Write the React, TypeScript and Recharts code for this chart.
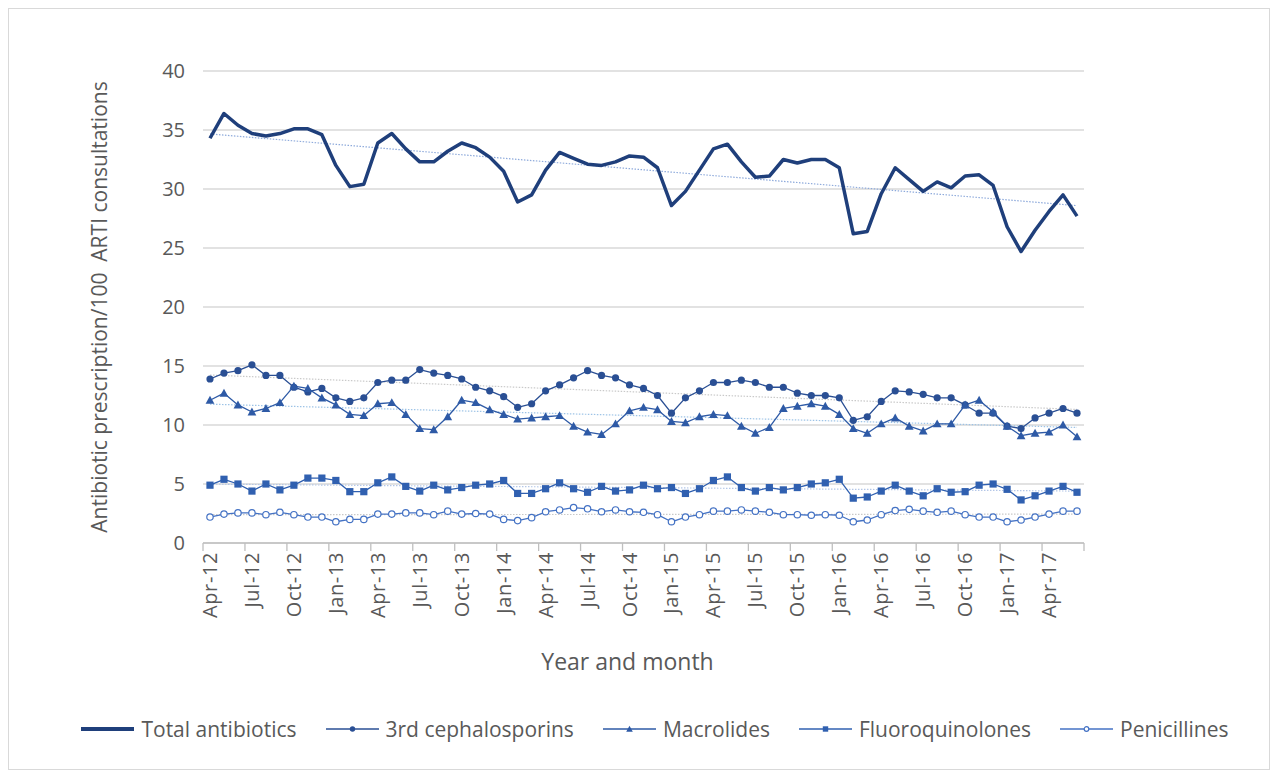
import { LineChart, Line, XAxis, YAxis, CartesianGrid, Legend } from 'recharts'

const MONTHS = [
  'Apr-12', 'May-12', 'Jun-12', 'Jul-12', 'Aug-12', 'Sep-12', 'Oct-12', 'Nov-12', 'Dec-12',
  'Jan-13', 'Feb-13', 'Mar-13', 'Apr-13', 'May-13', 'Jun-13', 'Jul-13', 'Aug-13', 'Sep-13', 'Oct-13', 'Nov-13', 'Dec-13',
  'Jan-14', 'Feb-14', 'Mar-14', 'Apr-14', 'May-14', 'Jun-14', 'Jul-14', 'Aug-14', 'Sep-14', 'Oct-14', 'Nov-14', 'Dec-14',
  'Jan-15', 'Feb-15', 'Mar-15', 'Apr-15', 'May-15', 'Jun-15', 'Jul-15', 'Aug-15', 'Sep-15', 'Oct-15', 'Nov-15', 'Dec-15',
  'Jan-16', 'Feb-16', 'Mar-16', 'Apr-16', 'May-16', 'Jun-16', 'Jul-16', 'Aug-16', 'Sep-16', 'Oct-16', 'Nov-16', 'Dec-16',
  'Jan-17', 'Feb-17', 'Mar-17', 'Apr-17', 'May-17', 'Jun-17',
]

const TOTAL = [
  34.3, 36.4, 35.4, 34.7, 34.5, 34.7, 35.1, 35.1, 34.6, 32.0,
  30.2, 30.4, 33.9, 34.7, 33.4, 32.3, 32.3, 33.2, 33.9, 33.5,
  32.7, 31.5, 28.9, 29.5, 31.6, 33.1, 32.6, 32.1, 32.0, 32.3,
  32.8, 32.7, 31.8, 28.6, 29.8, 31.6, 33.4, 33.8, 32.3, 31.0,
  31.1, 32.5, 32.2, 32.5, 32.5, 31.8, 26.2, 26.4, 29.6, 31.8,
  30.8, 29.8, 30.6, 30.1, 31.1, 31.2, 30.3, 26.8, 24.7, 26.5,
  28.1, 29.5, 27.7,
]

const CEPHALOSPORINS = [
  13.9, 14.4, 14.6, 15.1, 14.2, 14.2, 13.2, 12.8, 13.1, 12.3,
  12.0, 12.3, 13.6, 13.8, 13.8, 14.7, 14.4, 14.2, 13.9, 13.2,
  12.9, 12.4, 11.5, 11.8, 12.9, 13.4, 14.0, 14.6, 14.2, 14.0,
  13.4, 13.1, 12.5, 11.0, 12.3, 12.9, 13.6, 13.6, 13.8, 13.6,
  13.2, 13.2, 12.7, 12.5, 12.5, 12.3, 10.4, 10.7, 12.0, 12.9,
  12.8, 12.6, 12.3, 12.3, 11.7, 11.0, 11.0, 9.9, 9.7, 10.6,
  11.0, 11.4, 11.0,
]

const MACROLIDES = [
  12.1, 12.7, 11.7, 11.1, 11.4, 11.9, 13.3, 13.1, 12.3, 11.7,
  10.9, 10.8, 11.8, 11.9, 10.9, 9.7, 9.6, 10.7, 12.1, 11.9,
  11.3, 10.9, 10.5, 10.6, 10.7, 10.8, 9.9, 9.4, 9.2, 10.1,
  11.2, 11.5, 11.3, 10.3, 10.2, 10.7, 10.9, 10.8, 9.9, 9.3,
  9.8, 11.4, 11.6, 11.8, 11.6, 10.9, 9.7, 9.3, 10.1, 10.6,
  9.9, 9.5, 10.1, 10.1, 11.7, 12.1, 11.1, 9.9, 9.1, 9.3,
  9.4, 10.0, 9.0,
]

const FLUOROQUINOLONES = [
  4.9, 5.4, 5.0, 4.4, 5.0, 4.5, 4.9, 5.5, 5.5, 5.3,
  4.35, 4.35, 5.1, 5.6, 4.8, 4.4, 4.9, 4.5, 4.7, 4.9,
  5.0, 5.3, 4.2, 4.2, 4.6, 5.1, 4.6, 4.3, 4.8, 4.4,
  4.5, 4.9, 4.6, 4.7, 4.2, 4.6, 5.3, 5.6, 4.7, 4.4,
  4.7, 4.5, 4.7, 5.0, 5.1, 5.4, 3.8, 3.9, 4.4, 4.9,
  4.4, 4.0, 4.6, 4.3, 4.35, 4.9, 5.0, 4.55, 3.65, 4.0,
  4.4, 4.8, 4.3,
]

const PENICILLINES = [
  2.2, 2.45, 2.55, 2.55, 2.4, 2.6, 2.4, 2.2, 2.2, 1.8,
  2.0, 2.0, 2.45, 2.45, 2.55, 2.55, 2.4, 2.7, 2.45, 2.5,
  2.45, 2.0, 1.9, 2.15, 2.65, 2.8, 3.0, 2.9, 2.65, 2.8,
  2.65, 2.6, 2.4, 1.8, 2.2, 2.4, 2.7, 2.7, 2.8, 2.7,
  2.6, 2.4, 2.4, 2.35, 2.4, 2.35, 1.8, 1.95, 2.4, 2.75,
  2.85, 2.7, 2.6, 2.7, 2.4, 2.2, 2.2, 1.8, 1.95, 2.2,
  2.45, 2.7, 2.7,
]

const Y_TICKS = [0, 5, 10, 15, 20, 25, 30, 35, 40]

const FONT = '"Open Sans", sans-serif'
const TEXT = '#595959'

const W = 1260
const H = 760
const MARGIN = { top: 62, right: 185, bottom: 86, left: 84 }
const Y_AXIS_W = 110
const BAND = (W - MARGIN.left - MARGIN.right - Y_AXIS_W) / MONTHS.length

type Shape = 'none' | 'circle' | 'triangle' | 'square' | 'ring'

const SERIES: { key: string; name: string; values: number[]; color: string; width: number; shape: Shape; trend: string }[] = [
  { key: 'total', name: 'Total antibiotics', values: TOTAL, color: '#1f3f7b', width: 3.5, shape: 'none', trend: '#8eaadb' },
  { key: 'ceph', name: '3rd cephalosporins', values: CEPHALOSPORINS, color: '#2a4f94', width: 1.3, shape: 'circle', trend: '#c9c9c9' },
  { key: 'macro', name: 'Macrolides', values: MACROLIDES, color: '#2e5aa6', width: 1.3, shape: 'triangle', trend: '#9dc3e6' },
  { key: 'fluoro', name: 'Fluoroquinolones', values: FLUOROQUINOLONES, color: '#3060b0', width: 1.3, shape: 'square', trend: '#b4c7e7' },
  { key: 'pen', name: 'Penicillines', values: PENICILLINES, color: '#4472c4', width: 1.3, shape: 'ring', trend: '#c9c9c9' },
]

// least-squares linear trend, like Excel's trendline
function trend(values: number[]) {
  const n = values.length
  const mx = (n - 1) / 2
  const my = values.reduce((a, b) => a + b, 0) / n
  let num = 0
  let den = 0
  values.forEach((v, i) => {
    num += (i - mx) * (v - my)
    den += (i - mx) * (i - mx)
  })
  const slope = num / den
  return values.map((_, i) => my + slope * (i - mx))
}

const TRENDS = SERIES.map((s) => trend(s.values))

const data = MONTHS.map((month, i) => {
  const row: Record<string, string | number> = { month }
  SERIES.forEach((s, k) => {
    row[s.key] = s.values[i]
    row[s.key + 'Trend'] = TRENDS[k][i]
  })
  return row
})

function Marker({ shape, cx, cy, color, scale = 1 }: { shape: Shape; cx: number; cy: number; color: string; scale?: number }) {
  if (cx == null || cy == null) return null
  const r = 3.6 * scale
  switch (shape) {
    case 'circle':
      return <circle cx={cx} cy={cy} r={r} fill={color} />
    case 'triangle': {
      const h = 4.4 * scale
      return <polygon points={`${cx},${cy - h} ${cx + h},${cy + h * 0.8} ${cx - h},${cy + h * 0.8}`} fill={color} />
    }
    case 'square':
      return <rect x={cx - r} y={cy - r} width={r * 2} height={r * 2} fill={color} />
    case 'ring':
      return <circle cx={cx} cy={cy} r={r - 0.4} fill="#fff" stroke={color} strokeWidth={1.2} />
    default:
      return null
  }
}

function XTick(props: any) {
  const { x, y, payload } = props
  const left = x - BAND / 2
  const isLast = payload.value === MONTHS[MONTHS.length - 3]
  return (
    <g>
      <line x1={left} x2={left} y1={y - 9} y2={y - 1} stroke="#bfbfbf" strokeWidth={1.3} />
      {isLast && <line x1={x + BAND * 2.5} x2={x + BAND * 2.5} y1={y - 9} y2={y - 1} stroke="#bfbfbf" strokeWidth={1.3} />}
      <text
        x={x}
        y={y}
        transform={`rotate(-90 ${x} ${y})`}
        textAnchor="end"
        dy="0.35em"
        fill={TEXT}
        fontSize={20}
        letterSpacing={0.6}
        fontFamily={FONT}
      >
        {payload.value}
      </text>
    </g>
  )
}

function YLabel(props: any) {
  const vb = props.viewBox
  const x = vb.x + 7
  const y = vb.y + vb.height / 2
  return (
    <text
      x={x}
      y={y}
      transform={`rotate(-90 ${x} ${y})`}
      textAnchor="middle"
      dy="0.35em"
      fill={TEXT}
      fontSize={21}
      fontFamily={FONT}
      style={{ whiteSpace: 'pre' }}
    >
      Antibiotic prescription/100  ARTI consultations
    </text>
  )
}

function XLabel(props: any) {
  const vb = props.viewBox
  return (
    <text x={vb.x + vb.width / 2 - 16} y={vb.y + vb.height - 13} textAnchor="middle" fill={TEXT} fontSize={23} fontFamily={FONT}>
      Year and month
    </text>
  )
}

function renderLegend(props: any) {
  const items = (props.payload || [])
    .filter((e: any) => SERIES.some((s) => s.key === e.dataKey))
    .sort((a: any, b: any) => SERIES.findIndex((s) => s.key === a.dataKey) - SERIES.findIndex((s) => s.key === b.dataKey))
  return (
    <div style={{ display: 'flex', justifyContent: 'center', gap: 29, fontFamily: FONT, fontSize: 21, color: TEXT, paddingLeft: 32 }}>
      {items.map((entry: any) => {
        const s = SERIES.find((d) => d.key === entry.dataKey)!
        return (
          <div key={s.key} style={{ display: 'flex', alignItems: 'center', gap: 7 }}>
            <svg width={53} height={14}>
              <line x1={0} x2={53} y1={7} y2={7} stroke={s.color} strokeWidth={s.key === 'total' ? 4 : 1.5} />
              <Marker shape={s.shape} cx={26.5} cy={7} color={s.color} scale={0.75} />
            </svg>
            <span>{entry.value}</span>
          </div>
        )
      })}
    </div>
  )
}

export default function App() {
  return (
    <div style={{ width: W, height: H, border: '1px solid #d9d9d9', background: '#fff', position: 'relative' }}>
      <LineChart width={W} height={H} data={data} margin={MARGIN}>
        <CartesianGrid vertical={false} stroke="#d9d9d9" strokeWidth={1.3} />
        <XAxis
          dataKey="month"
          scale="band"
          interval={2}
          tick={<XTick />}
          tickLine={false}
          tickSize={8}
          tickMargin={1}
          height={140}
          axisLine={{ stroke: '#bfbfbf', strokeWidth: 1.3 }}
          label={<XLabel />}
        />
        <YAxis
          domain={[0, 40]}
          ticks={Y_TICKS}
          width={Y_AXIS_W}
          axisLine={false}
          tickLine={false}
          tickMargin={12}
          tick={{ fill: TEXT, fontSize: 20, fontFamily: FONT }}
          label={<YLabel />}
        />
        {SERIES.map((s) => (
          <Line
            key={s.key + 'Trend'}
            dataKey={s.key + 'Trend'}
            stroke={s.trend}
            strokeWidth={1.2}
            strokeDasharray="1.5 1.5"
            dot={false}
            activeDot={false}
            legendType="none"
            isAnimationActive={false}
          />
        ))}
        {SERIES.map((s) => (
          <Line
            key={s.key}
            dataKey={s.key}
            name={s.name}
            stroke={s.color}
            strokeWidth={s.width}
            strokeLinejoin="round"
            dot={(p: any) => <Marker key={`${s.key}-${p.index}`} shape={s.shape} cx={p.cx} cy={p.cy} color={s.color} />}
            activeDot={false}
            isAnimationActive={false}
          />
        ))}
        <Legend verticalAlign="middle" align="center" layout="horizontal" wrapperStyle={{ top: 706, left: 0, width: W }} content={renderLegend} />
      </LineChart>
    </div>
  )
}
